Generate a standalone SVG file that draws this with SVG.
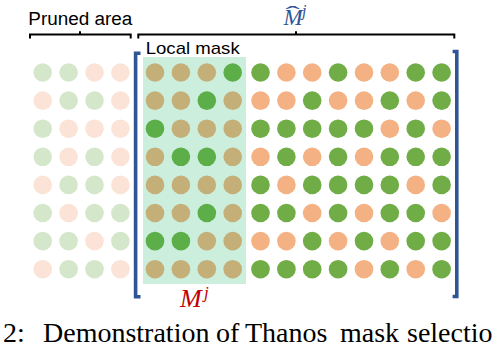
<svg xmlns="http://www.w3.org/2000/svg" width="492" height="342" viewBox="0 0 492 342">
<style>
.lg{fill:#D5E7CB}.lp{fill:#FCE3D7}.tn{fill:#C4AF79}.dg{fill:#5BAE48}.g{fill:#70AD47}.o{fill:#F4B183}
.brace{fill:none;stroke:#000;stroke-width:2}
.bb{fill:none;stroke:#2F5597;stroke-width:3.6}
.lbl{font-family:"Liberation Sans",Arial,sans-serif;fill:#000}
.math{font-family:"Liberation Serif","Times New Roman",serif;font-style:italic}
.cap{font-family:"Liberation Serif","Times New Roman",serif;font-size:28px;fill:#000}
</style>
<rect width="492" height="342" fill="#fff"/>
<g id="local-mask-area"><rect x="143" y="57" width="103" height="227" fill="#CCEEDC"/></g>
<g id="pruned-dots">
<circle class="lg" cx="42.7" cy="72.5" r="9.3"/><circle class="lg" cx="68.6" cy="72.5" r="9.3"/><circle class="lp" cx="94.5" cy="72.5" r="9.3"/><circle class="lp" cx="120.4" cy="72.5" r="9.3"/>
<circle class="lp" cx="42.7" cy="100.6" r="9.3"/><circle class="lg" cx="68.6" cy="100.6" r="9.3"/><circle class="lg" cx="94.5" cy="100.6" r="9.3"/><circle class="lp" cx="120.4" cy="100.6" r="9.3"/>
<circle class="lg" cx="42.7" cy="128.7" r="9.3"/><circle class="lp" cx="68.6" cy="128.7" r="9.3"/><circle class="lp" cx="94.5" cy="128.7" r="9.3"/><circle class="lp" cx="120.4" cy="128.7" r="9.3"/>
<circle class="lg" cx="42.7" cy="156.8" r="9.3"/><circle class="lp" cx="68.6" cy="156.8" r="9.3"/><circle class="lg" cx="94.5" cy="156.8" r="9.3"/><circle class="lp" cx="120.4" cy="156.8" r="9.3"/>
<circle class="lp" cx="42.7" cy="184.9" r="9.3"/><circle class="lg" cx="68.6" cy="184.9" r="9.3"/><circle class="lg" cx="94.5" cy="184.9" r="9.3"/><circle class="lp" cx="120.4" cy="184.9" r="9.3"/>
<circle class="lg" cx="42.7" cy="213" r="9.3"/><circle class="lp" cx="68.6" cy="213" r="9.3"/><circle class="lg" cx="94.5" cy="213" r="9.3"/><circle class="lg" cx="120.4" cy="213" r="9.3"/>
<circle class="lg" cx="42.7" cy="241.1" r="9.3"/><circle class="lg" cx="68.6" cy="241.1" r="9.3"/><circle class="lp" cx="94.5" cy="241.1" r="9.3"/><circle class="lg" cx="120.4" cy="241.1" r="9.3"/>
<circle class="lp" cx="42.7" cy="269.2" r="9.3"/><circle class="lg" cx="68.6" cy="269.2" r="9.3"/><circle class="lg" cx="94.5" cy="269.2" r="9.3"/><circle class="lp" cx="120.4" cy="269.2" r="9.3"/>
</g>
<g id="local-dots">
<circle class="tn" cx="155" cy="72.5" r="9.3"/><circle class="tn" cx="180.9" cy="72.5" r="9.3"/><circle class="tn" cx="206.8" cy="72.5" r="9.3"/><circle class="dg" cx="232.7" cy="72.5" r="9.3"/>
<circle class="tn" cx="155" cy="100.6" r="9.3"/><circle class="tn" cx="180.9" cy="100.6" r="9.3"/><circle class="dg" cx="206.8" cy="100.6" r="9.3"/><circle class="tn" cx="232.7" cy="100.6" r="9.3"/>
<circle class="dg" cx="155" cy="128.7" r="9.3"/><circle class="tn" cx="180.9" cy="128.7" r="9.3"/><circle class="tn" cx="206.8" cy="128.7" r="9.3"/><circle class="tn" cx="232.7" cy="128.7" r="9.3"/>
<circle class="tn" cx="155" cy="156.8" r="9.3"/><circle class="dg" cx="180.9" cy="156.8" r="9.3"/><circle class="dg" cx="206.8" cy="156.8" r="9.3"/><circle class="tn" cx="232.7" cy="156.8" r="9.3"/>
<circle class="tn" cx="155" cy="184.9" r="9.3"/><circle class="tn" cx="180.9" cy="184.9" r="9.3"/><circle class="tn" cx="206.8" cy="184.9" r="9.3"/><circle class="tn" cx="232.7" cy="184.9" r="9.3"/>
<circle class="tn" cx="155" cy="213" r="9.3"/><circle class="tn" cx="180.9" cy="213" r="9.3"/><circle class="dg" cx="206.8" cy="213" r="9.3"/><circle class="tn" cx="232.7" cy="213" r="9.3"/>
<circle class="dg" cx="155" cy="241.1" r="9.3"/><circle class="dg" cx="180.9" cy="241.1" r="9.3"/><circle class="tn" cx="206.8" cy="241.1" r="9.3"/><circle class="tn" cx="232.7" cy="241.1" r="9.3"/>
<circle class="tn" cx="155" cy="269.2" r="9.3"/><circle class="tn" cx="180.9" cy="269.2" r="9.3"/><circle class="tn" cx="206.8" cy="269.2" r="9.3"/><circle class="tn" cx="232.7" cy="269.2" r="9.3"/>
</g>
<g id="other-dots">
<circle class="g" cx="260.5" cy="72.5" r="9.3"/><circle class="o" cx="286.4" cy="72.5" r="9.3"/><circle class="o" cx="312.2" cy="72.5" r="9.3"/><circle class="g" cx="338.1" cy="72.5" r="9.3"/><circle class="o" cx="364" cy="72.5" r="9.3"/><circle class="o" cx="389.8" cy="72.5" r="9.3"/><circle class="g" cx="415.7" cy="72.5" r="9.3"/><circle class="g" cx="441.6" cy="72.5" r="9.3"/>
<circle class="o" cx="260.5" cy="100.6" r="9.3"/><circle class="o" cx="286.4" cy="100.6" r="9.3"/><circle class="g" cx="312.2" cy="100.6" r="9.3"/><circle class="o" cx="338.1" cy="100.6" r="9.3"/><circle class="o" cx="364" cy="100.6" r="9.3"/><circle class="g" cx="389.8" cy="100.6" r="9.3"/><circle class="o" cx="415.7" cy="100.6" r="9.3"/><circle class="g" cx="441.6" cy="100.6" r="9.3"/>
<circle class="g" cx="260.5" cy="128.7" r="9.3"/><circle class="g" cx="286.4" cy="128.7" r="9.3"/><circle class="g" cx="312.2" cy="128.7" r="9.3"/><circle class="g" cx="338.1" cy="128.7" r="9.3"/><circle class="g" cx="364" cy="128.7" r="9.3"/><circle class="o" cx="389.8" cy="128.7" r="9.3"/><circle class="g" cx="415.7" cy="128.7" r="9.3"/><circle class="o" cx="441.6" cy="128.7" r="9.3"/>
<circle class="o" cx="260.5" cy="156.8" r="9.3"/><circle class="g" cx="286.4" cy="156.8" r="9.3"/><circle class="o" cx="312.2" cy="156.8" r="9.3"/><circle class="g" cx="338.1" cy="156.8" r="9.3"/><circle class="o" cx="364" cy="156.8" r="9.3"/><circle class="g" cx="389.8" cy="156.8" r="9.3"/><circle class="g" cx="415.7" cy="156.8" r="9.3"/><circle class="g" cx="441.6" cy="156.8" r="9.3"/>
<circle class="g" cx="260.5" cy="184.9" r="9.3"/><circle class="o" cx="286.4" cy="184.9" r="9.3"/><circle class="g" cx="312.2" cy="184.9" r="9.3"/><circle class="g" cx="338.1" cy="184.9" r="9.3"/><circle class="g" cx="364" cy="184.9" r="9.3"/><circle class="g" cx="389.8" cy="184.9" r="9.3"/><circle class="o" cx="415.7" cy="184.9" r="9.3"/><circle class="g" cx="441.6" cy="184.9" r="9.3"/>
<circle class="g" cx="260.5" cy="213" r="9.3"/><circle class="g" cx="286.4" cy="213" r="9.3"/><circle class="o" cx="312.2" cy="213" r="9.3"/><circle class="g" cx="338.1" cy="213" r="9.3"/><circle class="o" cx="364" cy="213" r="9.3"/><circle class="g" cx="389.8" cy="213" r="9.3"/><circle class="g" cx="415.7" cy="213" r="9.3"/><circle class="o" cx="441.6" cy="213" r="9.3"/>
<circle class="o" cx="260.5" cy="241.1" r="9.3"/><circle class="o" cx="286.4" cy="241.1" r="9.3"/><circle class="g" cx="312.2" cy="241.1" r="9.3"/><circle class="o" cx="338.1" cy="241.1" r="9.3"/><circle class="g" cx="364" cy="241.1" r="9.3"/><circle class="o" cx="389.8" cy="241.1" r="9.3"/><circle class="g" cx="415.7" cy="241.1" r="9.3"/><circle class="g" cx="441.6" cy="241.1" r="9.3"/>
<circle class="g" cx="260.5" cy="269.2" r="9.3"/><circle class="g" cx="286.4" cy="269.2" r="9.3"/><circle class="g" cx="312.2" cy="269.2" r="9.3"/><circle class="g" cx="338.1" cy="269.2" r="9.3"/><circle class="o" cx="364" cy="269.2" r="9.3"/><circle class="g" cx="389.8" cy="269.2" r="9.3"/><circle class="o" cx="415.7" cy="269.2" r="9.3"/><circle class="g" cx="441.6" cy="269.2" r="9.3"/>
</g>
<g id="brackets">
<path class="brace" d="M30,38.5 V34.5 H130.7 V38.5 M80,34.5 V31.2"/>
<path class="brace" d="M138.3,38.5 V34.5 H454.3 V38.5 M296,34.5 V31.2"/>
<path class="bb" d="M140.5,53.2 H135.6 V296.8 H140.5"/>
<path class="bb" d="M452.6,51.5 H456.8 V296.5 H452.6"/>
</g>
<g id="labels">
<text class="lbl" x="28.3" y="25" font-size="18" textLength="104" lengthAdjust="spacingAndGlyphs">Pruned area</text>
<text class="lbl" x="145.7" y="54" font-size="17" textLength="94" lengthAdjust="spacingAndGlyphs">Local mask</text>
<text class="math" x="283.5" y="25" font-size="23" fill="#2F5597">M</text>
<text x="0" y="0" font-family="'Liberation Serif','Times New Roman',serif" font-size="22" fill="#2F5597" text-anchor="middle" transform="translate(292.5,21) scale(2,1)">ˆ</text>
<text class="math" x="302" y="15.5" font-size="16" fill="#2F5597">j</text>
<text class="math" x="180" y="306.7" font-size="26" fill="#C00000">M</text>
<text class="math" x="204" y="298" font-size="17" fill="#C00000">j</text>
</g>
<g id="caption">
<text class="cap" y="342"><tspan x="3">2:</tspan><tspan x="43">Demonstration</tspan><tspan x="216">of</tspan><tspan x="245">Thanos</tspan><tspan x="340">mask</tspan><tspan x="407">selection</tspan></text>
</g>
</svg>
